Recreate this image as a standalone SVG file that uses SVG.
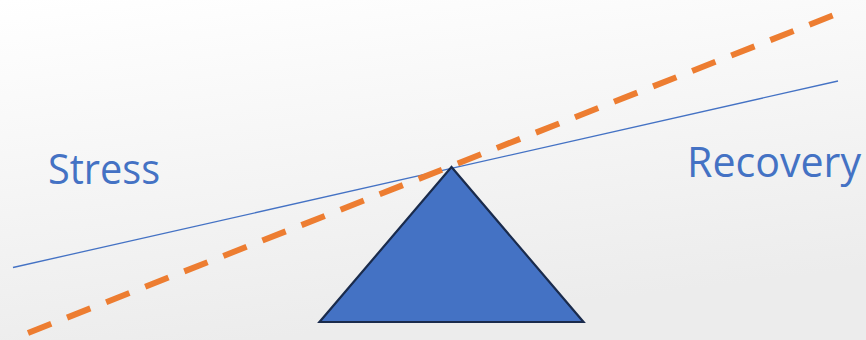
<svg xmlns="http://www.w3.org/2000/svg" width="866" height="340" viewBox="0 0 866 340">
<defs>
<linearGradient id="bg" x1="0" y1="0" x2="0.3" y2="1">
<stop offset="0" stop-color="#ffffff"/>
<stop offset="1" stop-color="#ececec"/>
</linearGradient>
<style>
.lbl{font-family:"Open Sans","Liberation Sans",Arial,sans-serif;font-size:42px;fill:#4472C4;}
</style>
</defs>
<rect width="866" height="340" fill="url(#bg)"/>
<g id="connectors">
<line x1="13" y1="267.5" x2="838" y2="81" stroke="#4472C4" stroke-width="1.3"/>
<line x1="28" y1="333" x2="834" y2="15" stroke="#ED7D31" stroke-width="6" stroke-dasharray="25 17"/>
</g>
<g id="fulcrum">
<polygon points="451.5,167 319.5,322 583.5,322" fill="#4472C4" stroke="#1A2B4C" stroke-width="2.2" stroke-linejoin="miter"/>
</g>
<g id="stress">
<text class="lbl" x="48" y="184" textLength="112" lengthAdjust="spacingAndGlyphs">Stress</text>
</g>
<g id="recovery">
<text class="lbl" x="687" y="177" textLength="174" lengthAdjust="spacingAndGlyphs">Recovery</text>
</g>
</svg>
